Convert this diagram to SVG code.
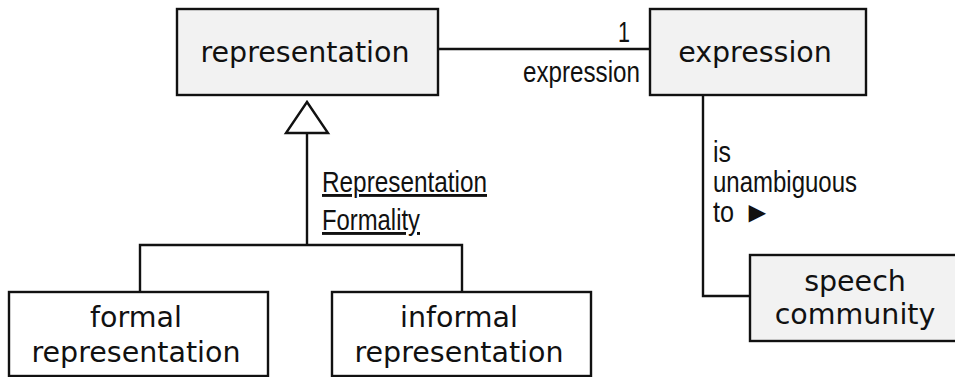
<svg xmlns="http://www.w3.org/2000/svg" width="955" height="377" viewBox="0 0 955 377">
<style>
.box{stroke:#111;stroke-width:2.4;}
.gray{fill:#f2f2f2;}
.white{fill:#ffffff;}
.name{font-family:"DejaVu Sans","Verdana",sans-serif;font-size:28.5px;fill:#111;text-anchor:middle;}
.lbl{font-family:"Liberation Sans",Arial,sans-serif;font-size:29px;fill:#111;}
.conn{stroke:#111;stroke-width:2.4;fill:none;}
</style>
<rect width="955" height="377" fill="#ffffff"/>
<g id="connectors">
<line class="conn" x1="438" y1="49" x2="650" y2="49"/>
<polyline class="conn" points="307,133 307,245"/>
<polyline class="conn" points="140,292 140,245 462,245 462,292"/>
<polygon points="307,102 286,133 328,133" fill="#ffffff" stroke="#111" stroke-width="2.4" stroke-linejoin="miter"/>
<polyline class="conn" points="703,95 703,296 750,296"/>
<text class="lbl" x="630" y="42" text-anchor="end" textLength="12" lengthAdjust="spacingAndGlyphs">1</text>
<text class="lbl" x="523" y="82" textLength="117" lengthAdjust="spacingAndGlyphs">expression</text>
<text class="lbl" x="322" y="192" textLength="165" lengthAdjust="spacingAndGlyphs" text-decoration="underline">Representation</text>
<text class="lbl" x="322" y="230" textLength="98" lengthAdjust="spacingAndGlyphs" text-decoration="underline">Formality</text>
<text class="lbl" x="713" y="162" textLength="18" lengthAdjust="spacingAndGlyphs">is</text>
<text class="lbl" x="713" y="192" textLength="144" lengthAdjust="spacingAndGlyphs">unambiguous</text>
<text class="lbl" x="713" y="222" textLength="21" lengthAdjust="spacingAndGlyphs">to</text>
<text class="lbl" x="743" y="222" font-size="30">►</text>
</g>
<g id="representation">
<rect class="box gray" x="177" y="9" width="261" height="86"/>
<text class="name" x="305" y="62">representation</text>
</g>
<g id="expression">
<rect class="box gray" x="650" y="9" width="216" height="86"/>
<text class="name" x="755" y="62">expression</text>
</g>
<g id="speech-community">
<rect class="box gray" x="750" y="255" width="212" height="86"/>
<text class="name" x="855" y="291">speech</text>
<text class="name" x="855" y="324">community</text>
</g>
<g id="formal-representation">
<rect class="box white" x="9" y="292" width="259" height="84"/>
<text class="name" x="136" y="327">formal</text>
<text class="name" x="136" y="362">representation</text>
</g>
<g id="informal-representation">
<rect class="box white" x="332" y="292" width="259" height="84"/>
<text class="name" x="459" y="327">informal</text>
<text class="name" x="459" y="362">representation</text>
</g>
</svg>
